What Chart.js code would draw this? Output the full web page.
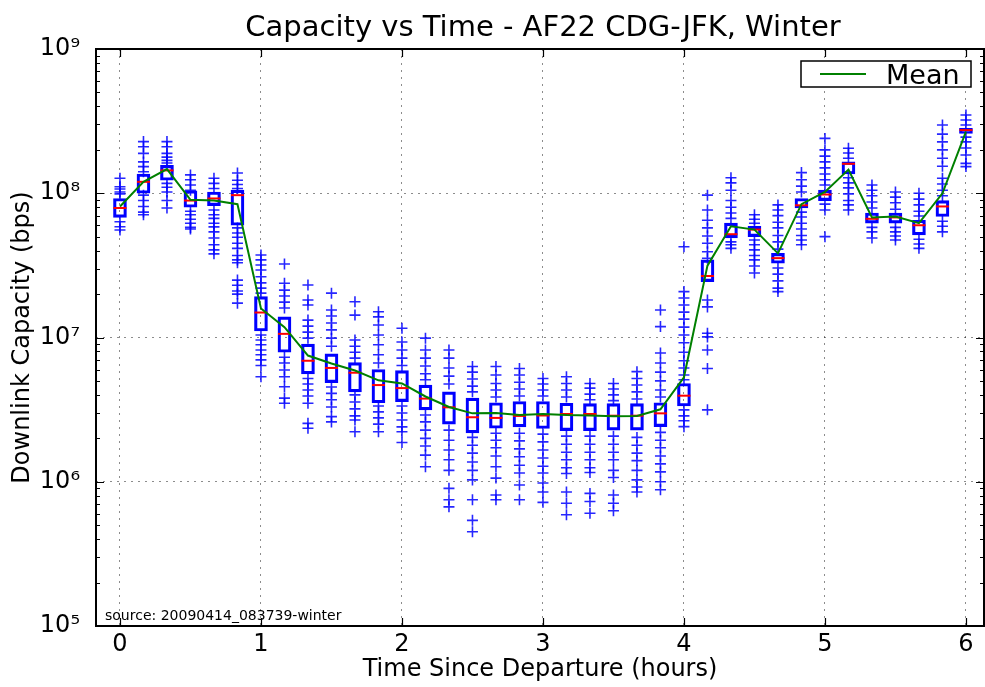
<!DOCTYPE html>
<html>
<head>
<meta charset="utf-8">
<title>Capacity vs Time - AF22 CDG-JFK, Winter</title>
<script src="https://cdn.jsdelivr.net/npm/chart.js@4/dist/chart.umd.min.js"></script>
<style>
  html, body { margin: 0; padding: 0; background: #fff; }
  #wrap { width: 985px; height: 687px; }
</style>
</head>
<body>
<div id="wrap"><canvas id="chart" width="985" height="687"></canvas></div>
<script>
// minutes since departure, one box every 10 minutes
const minutes = [0, 10, 20, 30, 40, 50, 60, 70, 80, 90, 100, 110, 120, 130, 140, 150, 160, 170, 180,
  190, 200, 210, 220, 230, 240, 250, 260, 270, 280, 290, 300, 310, 320, 330, 340, 350, 360];

const q1 = [6.8e7, 1.0e8, 1.23e8, 8.0e7, 8.2e7, 6.0e7, 1.11e7, 7.9e6, 5.6e6, 4.86e6, 4.2e6, 3.53e6, 3.59e6,
  3.15e6, 2.51e6, 2.18e6, 2.35e6, 2.4e6, 2.34e6, 2.26e6, 2.26e6, 2.28e6, 2.28e6, 2.41e6, 3.35e6, 2.44e7,
  4.9e7, 5.0e7, 3.27e7, 7.9e7, 8.9e7, 1.36e8, 6.2e7, 6.2e7, 5.15e7, 6.9e7, 2.6e8];
const medians = [7.9e7, 1.2e8, 1.44e8, 8.9e7, 9.2e7, 9.7e7, 1.49e7, 1.06e7, 6.9e6, 6.15e6, 5.7e6, 4.68e6, 4.46e6,
  3.77e6, 3.28e6, 2.8e6, 2.77e6, 2.86e6, 2.88e6, 2.95e6, 2.95e6, 2.87e6, 2.87e6, 2.98e6, 3.95e6, 2.67e7,
  5.2e7, 5.6e7, 3.55e7, 8.25e7, 9.8e7, 1.6e8, 6.65e7, 6.8e7, 6.0e7, 8.1e7, 2.74e8];
const q3 = [9.2e7, 1.36e8, 1.56e8, 1.04e8, 1.02e8, 1.05e8, 1.92e7, 1.39e7, 9.0e6, 7.7e6, 6.7e6, 6.0e6, 5.9e6,
  4.68e6, 4.2e6, 3.8e6, 3.53e6, 3.6e6, 3.6e6, 3.5e6, 3.48e6, 3.48e6, 3.48e6, 3.53e6, 4.8e6, 3.45e7,
  6.2e7, 5.9e7, 3.83e7, 9.2e7, 1.05e8, 1.65e8, 7.3e7, 7.3e7, 6.5e7, 8.9e7, 2.82e8];
const means = [8.1e7, 1.2e8, 1.47e8, 9.0e7, 8.9e7, 8.4e7, 1.59e7, 1.18e7, 7.5e6, 6.6e6, 5.9e6, 5.05e6, 4.8e6,
  3.9e6, 3.3e6, 2.98e6, 3.0e6, 2.9e6, 2.95e6, 2.9e6, 2.88e6, 2.84e6, 2.86e6, 3.18e6, 5.3e6, 3.15e7,
  5.9e7, 5.6e7, 3.83e7, 8.4e7, 1.02e8, 1.46e8, 6.8e7, 6.9e7, 6.2e7, 1.0e8, 2.67e8];

// samples outside the boxes, one list per box
const outliers = [
  [1.27e8, 1.11e8, 1.07e8, 1.02e8, 9.9e7, 6.35e7, 5.86e7, 5.56e7],
  [2.28e8, 2.1e8, 1.89e8, 1.65e8, 1.53e8, 1.41e8, 9.7e7, 8.9e7, 8.1e7, 7.4e7, 7.1e7],
  [2.28e8, 2.1e8, 1.89e8, 1.78e8, 1.69e8, 1.62e8, 1.17e8, 1.1e8, 1.02e8, 8.9e7, 7.9e7],
  [1.34e8, 1.24e8, 1.14e8, 1.05e8, 7.5e7, 7.1e7, 6.6e7, 6.2e7, 5.8e7, 5.65e7],
  [1.27e8, 1.17e8, 1.08e8, 7.65e7, 7.1e7, 6.7e7, 6.2e7, 5.85e7, 5.4e7, 4.9e7, 4.4e7, 4.05e7, 3.8e7],
  [1.38e8, 1.23e8, 1.15e8, 1.08e8, 5.75e7, 5.3e7, 4.95e7, 4.5e7, 4.15e7, 3.7e7, 3.45e7, 3.3e7, 2.5e7, 2.3e7, 2.1e7, 2.0e7, 1.73e7],
  [3.73e7, 3.45e7, 3.18e7, 2.94e7, 2.64e7, 2.39e7, 2.2e7, 2.03e7, 1.04e7, 9.6e6, 8.9e6, 8.2e6, 7.6e6, 7.0e6, 6.4e6, 5.35e6],
  [3.23e7, 2.38e7, 2.13e7, 1.94e7, 1.76e7, 1.6e7, 7.3e6, 6.65e6, 5.95e6, 5.35e6, 4.56e6, 3.8e6, 3.5e6],
  [2.31e7, 1.82e7, 1.68e7, 1.32e7, 1.2e7, 1.09e7, 9.9e6, 5.2e6, 4.76e6, 4.33e6, 3.93e6, 3.5e6, 2.54e6, 2.35e6],
  [2.03e7, 1.55e7, 1.41e7, 1.26e7, 1.13e7, 9.9e6, 8.7e6, 4.54e6, 4.1e6, 3.7e6, 3.3e6, 2.83e6, 2.6e6],
  [1.77e7, 1.43e7, 9.6e6, 8.7e6, 7.9e6, 7.2e6, 4.0e6, 3.57e6, 3.2e6, 2.86e6, 2.68e6, 2.22e6],
  [1.51e7, 1.39e7, 1.22e7, 1.04e7, 8.9e6, 7.6e6, 6.65e6, 3.35e6, 3.05e6, 2.77e6, 2.51e6, 2.22e6],
  [1.16e7, 9.3e6, 8.2e6, 7.2e6, 6.4e6, 3.35e6, 3.0e6, 2.68e6, 2.4e6, 2.22e6, 1.87e6],
  [9.9e6, 8.2e6, 7.2e6, 6.35e6, 5.6e6, 5.1e6, 2.9e6, 2.6e6, 2.28e6, 2.0e6, 1.77e6, 1.53e6, 1.27e6],
  [8.2e6, 7.2e6, 6.15e6, 5.4e6, 4.76e6, 2.28e6, 1.94e6, 1.66e6, 1.42e6, 1.2e6, 9.0e5, 7.5e5, 6.7e5],
  [6.3e6, 5.75e6, 5.15e6, 4.6e6, 4.2e6, 2.03e6, 1.79e6, 1.58e6, 1.37e6, 1.2e6, 1.03e6, 7.5e5, 5.4e5, 4.5e5],
  [6.3e6, 5.5e6, 4.8e6, 4.33e6, 3.87e6, 2.17e6, 1.94e6, 1.72e6, 1.51e6, 1.27e6, 1.06e6, 8.1e5, 7.5e5],
  [6.1e6, 5.5e6, 4.9e6, 4.4e6, 3.93e6, 2.17e6, 1.92e6, 1.69e6, 1.49e6, 1.3e6, 1.15e6, 9.5e5, 7.5e5],
  [5.2e6, 4.76e6, 4.33e6, 3.93e6, 2.14e6, 1.89e6, 1.66e6, 1.46e6, 1.28e6, 1.15e6, 9.8e5, 8.5e5, 7.2e5],
  [5.35e6, 4.8e6, 4.33e6, 3.87e6, 2.07e6, 1.82e6, 1.6e6, 1.42e6, 1.25e6, 1.14e6, 8.5e5, 7.1e5, 5.9e5],
  [4.8e6, 4.46e6, 4.05e6, 3.7e6, 2.07e6, 1.82e6, 1.6e6, 1.42e6, 1.25e6, 1.16e6, 8.3e5, 7.3e5, 6.05e5],
  [4.8e6, 4.4e6, 4.0e6, 3.65e6, 2.07e6, 1.82e6, 1.6e6, 1.42e6, 1.2e6, 1.07e6, 8.1e5, 7.1e5, 6.3e5],
  [5.8e6, 5.2e6, 4.68e6, 4.2e6, 3.75e6, 2.03e6, 1.79e6, 1.58e6, 1.4e6, 1.2e6, 1.03e6, 9.2e5, 8.5e5],
  [1.55e7, 1.19e7, 7.8e6, 6.65e6, 5.75e6, 5.0e6, 4.33e6, 3.87e6, 2.2e6, 1.94e6, 1.72e6, 1.51e6, 1.33e6, 1.17e6, 1.0e6, 8.8e5],
  [4.26e7, 2.08e7, 1.88e7, 1.68e7, 1.5e7, 1.34e7, 1.18e7, 1.04e7, 9.2e6, 7.9e6, 6.9e6, 6.15e6, 5.5e6, 5.1e6, 3.15e6, 2.86e6, 2.65e6, 2.41e6],
  [9.7e7, 7.65e7, 6.5e7, 5.75e7, 5.05e7, 4.5e7, 3.93e7, 3.54e7, 1.82e7, 1.63e7, 1.07e7, 1.01e7, 8.2e6, 6.1e6, 3.15e6],
  [1.28e8, 1.18e8, 1.05e8, 8.9e7, 8.0e7, 7.3e7, 6.7e7, 4.6e7, 4.4e7, 4.15e7],
  [7.1e7, 6.6e7, 6.2e7, 4.74e7, 4.4e7, 4.05e7, 3.7e7, 3.45e7, 3.13e7, 2.8e7],
  [8.3e7, 7.65e7, 7.0e7, 6.3e7, 5.75e7, 5.1e7, 4.6e7, 4.1e7, 3.03e7, 2.75e7, 2.47e7, 2.2e7, 2.08e7],
  [1.39e8, 1.24e8, 1.12e8, 1.02e8, 7.4e7, 6.85e7, 6.2e7, 5.65e7, 5.1e7, 4.74e7, 4.4e7],
  [2.4e8, 2.0e8, 1.81e8, 1.65e8, 1.5e8, 1.36e8, 1.24e8, 1.14e8, 8.4e7, 7.65e7, 5.0e7],
  [2.05e8, 1.9e8, 1.75e8, 1.28e8, 1.18e8, 1.09e8, 9.9e7, 8.9e7, 8.3e7, 7.65e7],
  [1.14e8, 1.05e8, 9.6e7, 8.7e7, 7.9e7, 5.8e7, 5.4e7, 4.9e7],
  [1.02e8, 9.4e7, 8.6e7, 7.75e7, 5.8e7, 5.4e7, 5.05e7, 4.74e7],
  [1.0e8, 9.1e7, 8.3e7, 7.5e7, 6.95e7, 4.8e7, 4.45e7, 4.15e7],
  [2.97e8, 2.57e8, 2.27e8, 2.0e8, 1.75e8, 1.54e8, 1.27e8, 1.16e8, 1.05e8, 9.6e7, 6.4e7, 5.9e7, 5.4e7],
  [3.49e8, 3.22e8, 2.97e8, 2.45e8, 2.27e8, 2.06e8, 1.84e8, 1.61e8, 1.53e8]
];

const hourTicks = [0, 1, 2, 3, 4, 5, 6];
const decadeTicks = [1e5, 1e6, 1e7, 1e8, 1e9];
const chartTitle = 'Capacity vs Time - AF22 CDG-JFK, Winter';
const sourceLabel = 'source: 20090414_083739-winter';

const hours = minutes.map(m => m / 60);
const supDigits = { 5: '\u2075', 6: '\u2076', 7: '\u2077', 8: '\u2078', 9: '\u2079' };

Chart.defaults.font.family = '"DejaVu Sans", sans-serif';
Chart.defaults.color = '#000';

// frame, inward ticks, title, legend and source note (matplotlib look)
const decorations = {
  id: 'decorations',
  afterDraw(chart) {
    const { ctx, chartArea: a, scales: { x, y } } = chart;
    ctx.save();
    ctx.strokeStyle = '#000';

    // minor log ticks on left/right
    ctx.lineWidth = 1;
    ctx.beginPath();
    for (let d = 5; d < 9; d++) {
      for (let m = 2; m <= 9; m++) {
        const py = Math.round(y.getPixelForValue(m * Math.pow(10, d))) + 0.5;
        ctx.moveTo(a.left, py); ctx.lineTo(a.left + 4, py);
        ctx.moveTo(a.right, py); ctx.lineTo(a.right - 4, py);
      }
    }
    ctx.stroke();

    // major ticks
    ctx.lineWidth = 1.2;
    ctx.beginPath();
    decadeTicks.forEach(v => {
      const py = Math.round(y.getPixelForValue(v)) + 0.5;
      ctx.moveTo(a.left, py); ctx.lineTo(a.left + 8, py);
      ctx.moveTo(a.right, py); ctx.lineTo(a.right - 8, py);
    });
    hourTicks.forEach(v => {
      const px = Math.round(x.getPixelForValue(v)) + 0.5;
      ctx.moveTo(px, a.top); ctx.lineTo(px, a.top + 8);
      ctx.moveTo(px, a.bottom); ctx.lineTo(px, a.bottom - 8);
    });
    ctx.stroke();

    // frame
    ctx.lineWidth = 2;
    ctx.strokeRect(a.left, a.top, a.right - a.left, a.bottom - a.top);

    // title, centred over the plot area
    ctx.fillStyle = '#000';
    ctx.font = '29px "DejaVu Sans"';
    ctx.textAlign = 'center';
    ctx.textBaseline = 'alphabetic';
    ctx.fillText(chartTitle, (a.left + a.right) / 2 + 3, 36);

    // legend
    const lx = a.right - 183, ly = a.top + 12, lw = 170, lh = 26;
    ctx.fillStyle = '#fff';
    ctx.fillRect(lx, ly, lw, lh);
    ctx.lineWidth = 1.5;
    ctx.strokeRect(lx, ly, lw, lh);
    ctx.strokeStyle = '#008000';
    ctx.lineWidth = 2;
    ctx.beginPath();
    ctx.moveTo(lx + 19, ly + 13); ctx.lineTo(lx + 65, ly + 13);
    ctx.stroke();
    ctx.fillStyle = '#000';
    ctx.textAlign = 'left';
    ctx.font = '27px "DejaVu Sans"';
    ctx.fillText('Mean', lx + 85, ly + 22.5);

    // source note
    ctx.font = '14px "DejaVu Sans"';
    ctx.fillText(sourceLabel, a.left + 9, a.bottom - 6.5);
    ctx.restore();
  }
};

const boxData = hours.map((h, i) => ({ x: h, y: [q1[i], q3[i]] }));
const medianData = hours.map((h, i) => ({ x: h, y: medians[i] }));
const meanData = hours.map((h, i) => ({ x: h, y: means[i] }));
const pointData = [];
outliers.forEach((list, i) => list.forEach(v => pointData.push({ x: hours[i], y: v })));

const gridOpts = { color: 'rgba(0,0,0,0.45)', lineWidth: 1, drawTicks: false, offset: false };
const borderOpts = { display: false, dash: [2, 5] };

new Chart(document.getElementById('chart'), {
  type: 'scatter',
  data: {
    datasets: [
      {
        type: 'line',
        label: 'Mean',
        data: meanData,
        borderColor: '#008000',
        borderWidth: 2,
        pointRadius: 0,
        tension: 0,
        fill: false
      },
      {
        type: 'scatter',
        label: 'Median',
        data: medianData,
        pointStyle: 'line',
        pointRadius: 6.5,
        pointBorderColor: '#ff0000',
        pointBorderWidth: 2
      },
      {
        type: 'bar',
        label: 'Box',
        data: boxData,
        backgroundColor: 'rgba(0,0,0,0)',
        borderColor: '#0000ff',
        borderWidth: 2.5,
        borderSkipped: false,
        barThickness: 13,
        grouped: false
      },
      {
        type: 'scatter',
        label: 'Samples',
        data: pointData,
        pointStyle: 'cross',
        pointRadius: 5.5,
        pointBorderColor: 'rgba(0,0,255,0.85)',
        pointBorderWidth: 1.6
      }
    ]
  },
  options: {
    responsive: false,
    animation: false,
    events: [],
    layout: { autoPadding: false, padding: { left: 0, right: 1, top: 49, bottom: 0 } },
    plugins: {
      legend: { display: false },
      tooltip: { enabled: false },
      title: { display: false }
    },
    scales: {
      x: {
        type: 'linear',
        min: -0.17,
        max: 6.128,
        offset: false,
        afterBuildTicks: s => { s.ticks = hourTicks.map(v => ({ value: v })); },
        afterFit: s => { s.height = 61; },
        ticks: { font: { size: 24 }, padding: 4, autoSkip: false, maxRotation: 0, callback: v => String(v) },
        grid: gridOpts,
        border: borderOpts,
        title: { display: true, text: 'Time Since Departure (hours)', font: { size: 24 }, padding: { top: 0, bottom: 3 } }
      },
      y: {
        type: 'logarithmic',
        min: 1e5,
        max: 1e9,
        afterBuildTicks: s => { s.ticks = decadeTicks.map(v => ({ value: v })); },
        afterFit: s => { s.width = 96; },
        ticks: { font: { size: 24 }, padding: 16, autoSkip: false,
          callback: v => '10' + supDigits[Math.round(Math.log10(v))] },
        grid: gridOpts,
        border: borderOpts,
        title: { display: true, text: 'Downlink Capacity (bps)', font: { size: 24 }, padding: { top: 8, bottom: 0 } }
      }
    }
  },
  plugins: [decorations]
});
</script>
</body>
</html>
